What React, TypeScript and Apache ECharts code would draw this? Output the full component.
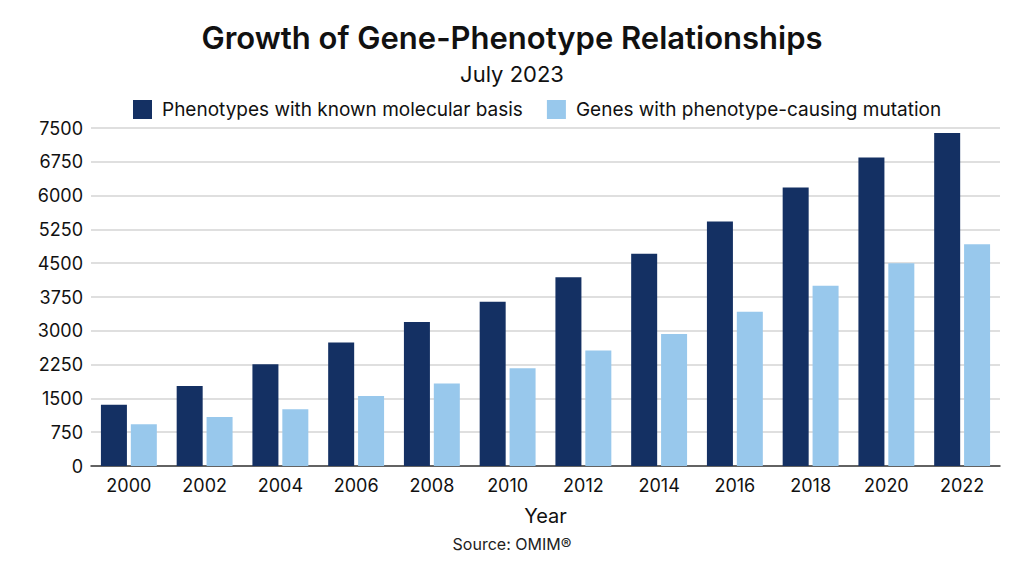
import React, { useEffect, useRef } from "react";
import * as echarts from "echarts";

const years = ["2000", "2002", "2004", "2006", "2008", "2010", "2012", "2014", "2016", "2018", "2020", "2022"];
const phenotypes = [1360, 1777, 2258, 2739, 3198, 3642, 4190, 4708, 5426, 6181, 6847, 7388];
const genes = [926, 1088, 1259, 1555, 1828, 2169, 2561, 2931, 3420, 3997, 4501, 4923];
const seriesNames = ["Phenotypes with known molecular basis", "Genes with phenotype-causing mutation"];
const titleText = "Growth of Gene-Phenotype Relationships";
const subtitleText = "July 2023";
const sourceText = "Source: OMIM®";

const FONT = "Inter, 'Noto Sans', sans-serif";

export default function App() {
  const ref = useRef<HTMLDivElement>(null);
  useEffect(() => {
    if (!ref.current) return;
    const chart = echarts.init(ref.current, undefined, { renderer: "svg" });
    chart.setOption({
      animation: false,
      backgroundColor: "#ffffff",
      textStyle: { fontFamily: FONT },
      title: [
        {
          text: titleText,
          left: "center",
          top: 17,
          textStyle: { fontFamily: FONT, fontSize: 31, fontWeight: 600, color: "#111" },
        },
        {
          text: subtitleText,
          left: "center",
          top: 58,
          textStyle: { fontFamily: FONT, fontSize: 22, fontWeight: 400, color: "#111" },
        },
        {
          text: sourceText,
          left: "center",
          top: 531,
          textStyle: { fontFamily: FONT, fontSize: 16, fontWeight: 400, color: "#222" },
        },
      ],
      legend: {
        top: 95,
        left: 128,
        itemWidth: 19,
        itemHeight: 19,
        itemGap: 24,
        icon: "rect",
        textStyle: { fontFamily: FONT, fontSize: 19, color: "#111", padding: [0, 0, 0, 5] },
        data: seriesNames,
      },
      grid: { left: 91, right: 24, top: 128, bottom: 97, containLabel: false },
      xAxis: {
        type: "category",
        data: years,
        name: "Year",
        nameLocation: "middle",
        nameGap: 40,
        nameTextStyle: { fontFamily: FONT, fontSize: 20, color: "#111" },
        axisLine: { show: true, lineStyle: { color: "#3a3a3a", width: 1.5 } },
        axisTick: { show: false },
        axisLabel: { fontFamily: FONT, fontSize: 18, color: "#111", margin: 10 },
      },
      yAxis: {
        type: "value",
        min: 0,
        max: 7500,
        interval: 750,
        axisLine: { show: false },
        axisTick: { show: false },
        axisLabel: {
          fontFamily: FONT,
          fontSize: 18,
          color: "#111",
          margin: 8,
          formatter: (v: number) => String(v),
        },
        splitLine: { lineStyle: { color: "#d4d4d4", width: 1.5 } },
      },
      series: [
        {
          name: seriesNames[0],
          type: "bar",
          data: phenotypes,
          barWidth: 26,
          barGap: "15%",
          itemStyle: { color: "#143063" },
        },
        {
          name: seriesNames[1],
          type: "bar",
          data: genes,
          barWidth: 26,
          barGap: "15%",
          itemStyle: { color: "#98C8EC" },
        },
      ],
    });
    return () => chart.dispose();
  }, []);
  return (
    <div
      ref={ref}
      style={{ position: "fixed", left: 0, top: 0, width: 1024, height: 563 }}
    />
  );
}
